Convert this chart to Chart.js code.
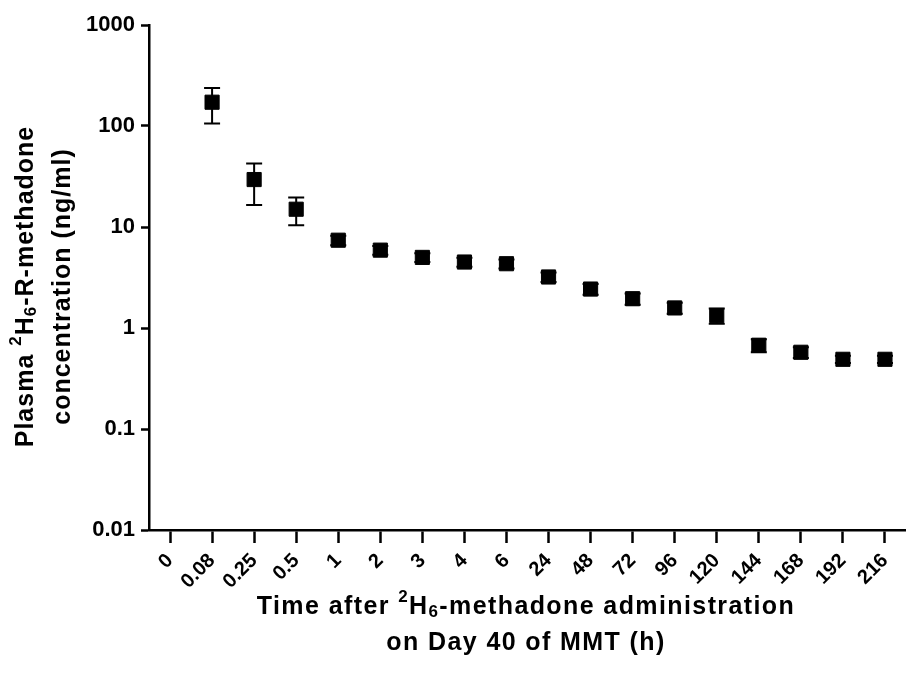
<!DOCTYPE html>
<html>
<head>
<meta charset="utf-8">
<script src="https://cdn.jsdelivr.net/npm/chart.js@4.4.1/dist/chart.umd.min.js"></script>
<style>
  body { margin: 0; background: #fff; }
  canvas { display: block; }
</style>
</head>
<body>
<canvas id="myChart" width="906" height="688"></canvas>
<script>
// Sampling times (h) after the 2H6-methadone dose
const timeLabels = ['0', '0.08', '0.25', '0.5', '1', '2', '3', '4', '6', '24', '48', '72', '96', '120', '144', '168', '192', '216'];
// Mean plasma concentration (ng/ml), no point at time 0
const meanConc = [null, 172, 29.5, 15, 7.4, 5.9, 5.0, 4.5, 4.33, 3.2, 2.43, 1.95, 1.58, 1.33, 0.675, 0.575, 0.49, 0.49];
// Error (+/-) around each mean
const errConc = [null, 66, 13, 4.6, 0.8, 0.6, 0.5, 0.45, 0.45, 0.35, 0.3, 0.25, 0.2, 0.23, 0.1, 0.07, 0.04, 0.04];
// Log axis ticks
const yTicks = [0.01, 0.1, 1, 10, 100, 1000];

const FONT = 'Liberation Sans, Arial, Helvetica, sans-serif';

// Error bars drawn under the markers
const errorBars = {
    id: 'errorBars',
    beforeDatasetsDraw(chart) {
        const ctx = chart.ctx;
        const xs = chart.scales.x, ys = chart.scales.y;
        ctx.save();
        ctx.strokeStyle = '#000';
        ctx.lineWidth = 2;
        meanConc.forEach((m, i) => {
            if (m == null) return;
            const x = xs.getPixelForValue(i);
            const top = ys.getPixelForValue(m + errConc[i]);
            const bot = ys.getPixelForValue(m - errConc[i]);
            ctx.beginPath();
            ctx.moveTo(x, top); ctx.lineTo(x, bot);
            ctx.moveTo(x - 8, top); ctx.lineTo(x + 8, top);
            ctx.moveTo(x - 8, bot); ctx.lineTo(x + 8, bot);
            ctx.stroke();
        });
        ctx.restore();
    }
};

// Draw a line of text made of runs (normal / superscript / subscript), centred at 0,0
function drawRuns(ctx, runs, size, spacing) {
    const small = Math.round(size * 0.68);
    ctx.letterSpacing = spacing + 'px';
    let total = 0;
    runs.forEach(r => {
        ctx.font = 'bold ' + (r.s ? small : size) + 'px ' + FONT;
        r.w = ctx.measureText(r.t).width;
        total += r.w;
    });
    let x = -total / 2;
    runs.forEach(r => {
        ctx.font = 'bold ' + (r.s ? small : size) + 'px ' + FONT;
        const dy = r.s === 'sup' ? -size * 0.4 : (r.s === 'sub' ? size * 0.2 : 0);
        ctx.fillText(r.t, x, dy);
        x += r.w;
    });
    ctx.letterSpacing = '0px';
}

// Axis titles with real super/subscripts
const axisTitles = {
    id: 'axisTitles',
    afterDraw(chart) {
        const ctx = chart.ctx;
        const area = chart.chartArea;
        ctx.save();
        ctx.fillStyle = '#000';
        ctx.textAlign = 'left';
        ctx.textBaseline = 'middle';
        const size = 25;

        // y title
        const cy = (area.top + area.bottom) / 2 + 9;
        ctx.save();
        ctx.translate(26, cy);
        ctx.rotate(-Math.PI / 2);
        drawRuns(ctx, [{ t: 'Plasma ' }, { t: '2', s: 'sup' }, { t: 'H' }, { t: '6', s: 'sub' }, { t: '-R-methadone' }], size, 1.0);
        ctx.restore();
        ctx.save();
        ctx.translate(63, cy);
        ctx.rotate(-Math.PI / 2);
        drawRuns(ctx, [{ t: 'concentration (ng/ml)' }], size, 1.0);
        ctx.restore();

        // x title, centred under the plot
        const cx = 526;
        ctx.save();
        ctx.translate(cx, 607);
        drawRuns(ctx, [{ t: 'Time after ' }, { t: '2', s: 'sup' }, { t: 'H' }, { t: '6', s: 'sub' }, { t: '-methadone administration' }], size, 1.4);
        ctx.restore();
        ctx.save();
        ctx.translate(cx, 643);
        drawRuns(ctx, [{ t: 'on Day 40 of MMT (h)' }], size, 1.4);
        ctx.restore();
        ctx.restore();
    }
};

const ctx = document.getElementById('myChart').getContext('2d');
const myChart = new Chart(ctx, {
    type: 'line',
    data: {
        labels: timeLabels,
        datasets: [{
            data: meanConc,
            showLine: false,
            pointStyle: 'rect',
            pointRadius: 10,
            pointBorderWidth: 1,
            backgroundColor: '#000',
            borderColor: '#000'
        }]
    },
    options: {
        responsive: false,
        animation: false,
        layout: { autoPadding: false, padding: { top: 25, right: -2, left: 0, bottom: 0 } },
        plugins: {
            legend: { display: false },
            tooltip: { enabled: false }
        },
        scales: {
            x: {
                type: 'category',
                offset: true,
                grid: {
                    drawOnChartArea: false,
                    drawTicks: true,
                    tickLength: 13,
                    tickWidth: 2.5,
                    tickColor: '#000',
                    offset: false
                },
                border: { display: true, color: '#000', width: 2.5 },
                ticks: {
                    color: '#000',
                    font: { family: FONT, size: 20, weight: 'bold' },
                    minRotation: 45,
                    maxRotation: 45,
                    autoSkip: false,
                    padding: 6
                },
                afterFit(scale) {
                    scale.height = 158;
                    scale.paddingLeft = 0;
                    scale.paddingRight = 0;
                }
            },
            y: {
                type: 'logarithmic',
                min: 0.01,
                max: 1000,
                grid: {
                    drawOnChartArea: false,
                    drawTicks: true,
                    tickLength: 8,
                    tickWidth: 2.5,
                    tickColor: '#000'
                },
                border: { display: true, color: '#000', width: 2.5 },
                ticks: {
                    color: '#000',
                    font: { family: FONT, size: 22, weight: 'bold' },
                    padding: 6,
                    callback: (v) => String(v)
                },
                afterBuildTicks(scale) {
                    scale.ticks = yTicks.map(v => ({ value: v }));
                },
                afterFit(scale) { scale.width = 149; }
            }
        }
    },
    plugins: [errorBars, axisTitles]
});
</script>
</body>
</html>
